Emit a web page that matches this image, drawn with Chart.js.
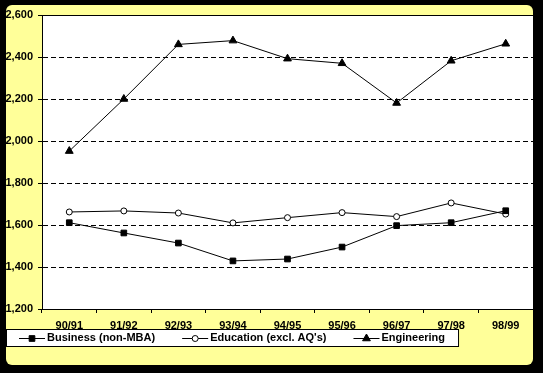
<!DOCTYPE html>
<html>
<head>
<meta charset="utf-8">
<script src="https://cdn.jsdelivr.net/npm/chart.js@4"></script>
<style>
  body { margin: 0; background: #000; }
  #wrap { width: 543px; height: 373px; }
</style>
</head>
<body>
<div id="wrap"><canvas id="chart" width="543" height="373"></canvas></div>
<script>
// chart data
let years = ["90/91", "91/92", "92/93", "93/94", "94/95", "95/96", "96/97", "97/98", "98/99"];
let business = [1611, 1562, 1514, 1429, 1438, 1495, 1597, 1611, 1668];
let education = [1662, 1667, 1657, 1610, 1635, 1659, 1640, 1705, 1652];
let engineering = [1952, 2200, 2460, 2478, 2392, 2370, 2181, 2382, 2463];
let seriesNames = ["Business (non-MBA)", "Education (excl. AQ's)", "Engineering"];
let yMin = 1200;
let yMax = 2600;
let yStep = 200;

let fontFamily = "'Liberation Sans', Arial, sans-serif";
let yellow = "#ffff99";

// yellow panel, white plot area, plot top line
let frame = {
  id: "frame",
  beforeDraw(chart) {
    let ctx = chart.ctx;
    let area = chart.chartArea;
    ctx.save();
    ctx.fillStyle = "#000";
    ctx.fillRect(0, 0, chart.width, chart.height);
    ctx.fillStyle = yellow;
    ctx.beginPath();
    ctx.roundRect(6, 5, 527, 360, 6);
    ctx.fill();
    ctx.fillStyle = "#fff";
    ctx.fillRect(area.left, area.top, area.right - area.left, area.bottom - area.top);
    ctx.restore();
  },
  afterDraw(chart) {
    let ctx = chart.ctx;
    let area = chart.chartArea;
    ctx.save();
    ctx.strokeStyle = "#000";
    ctx.lineWidth = 1;
    ctx.beginPath();
    ctx.moveTo(area.left - 4, Math.round(area.top) + 0.5);
    ctx.lineTo(area.right, Math.round(area.top) + 0.5);
    ctx.stroke();
    ctx.restore();
  }
};

// legend in a white box under the axis
let legendBox = {
  id: "legendBox",
  afterDraw(chart) {
    let ctx = chart.ctx;
    let sets = chart.data.datasets;
    let sample = 26, gap = 2, spacing = 27, pad = 13;
    let left = 6, top = 329, h = 17;
    ctx.save();
    ctx.font = "bold 11px " + fontFamily;
    let widths = sets.map((d) => ctx.measureText(d.label).width);
    let total = widths.reduce((a, b) => a + b, 0) + sets.length * (sample + gap) + (sets.length - 1) * spacing;
    let w = total + pad * 2;
    ctx.fillStyle = "#fff";
    ctx.fillRect(left, top, w, h);
    ctx.strokeStyle = "#000";
    ctx.lineWidth = 1;
    ctx.strokeRect(left + 0.5, top + 0.5, w, h);
    let x = left + pad;
    let cy = top + h / 2 + 0.5;
    sets.forEach((d, i) => {
      ctx.strokeStyle = "#000";
      ctx.beginPath();
      ctx.moveTo(x, Math.round(cy) + 0.5);
      ctx.lineTo(x + sample, Math.round(cy) + 0.5);
      ctx.stroke();
      ctx.fillStyle = d.pointBackgroundColor;
      ctx.lineWidth = 1;
      Chart.helpers.drawPoint(ctx, {
        pointStyle: d.pointStyle,
        radius: d.pointRadius,
        rotation: 0,
        borderWidth: 1
      }, x + sample / 2, Math.round(cy) + 0.5);
      ctx.fillStyle = "#000";
      ctx.textBaseline = "middle";
      ctx.fillText(d.label, x + sample + gap, cy);
      x += sample + gap + widths[i] + spacing;
    });
    ctx.restore();
  }
};

let makeSet = (label, values, style, fill, radius) => {
  return {
    label: label,
    data: values,
    borderColor: "#000",
    borderWidth: 1,
    pointStyle: style,
    pointRadius: radius,
    pointBackgroundColor: fill,
    pointBorderColor: "#000",
    pointBorderWidth: 1,
    tension: 0
  };
};

new Chart(document.getElementById("chart"), {
  type: "line",
  data: {
    labels: years,
    datasets: [
      makeSet(seriesNames[0], business, "rect", "#000", 4),
      makeSet(seriesNames[1], education, "circle", "#fff", 3),
      makeSet(seriesNames[2], engineering, "triangle", "#000", 4.5)
    ]
  },
  options: {
    responsive: false,
    animation: false,
    layout: { padding: { left: 0, top: 15, right: 10, bottom: 44 } },
    plugins: {
      legend: { display: false },
      tooltip: { enabled: false }
    },
    scales: {
      x: {
        offset: true,
        afterFit: (scale) => { scale.height = 20; },
        grid: { offset: true, drawOnChartArea: false, tickLength: 4, color: "#000" },
        border: { color: "#000", width: 1 },
        ticks: {
          color: "#000",
          font: { family: fontFamily, size: 11, weight: "bold" },
          padding: 6,
          maxRotation: 0,
          autoSkip: false
        }
      },
      y: {
        min: yMin,
        max: yMax,
        afterFit: (scale) => { scale.width = 42; },
        grid: {
          color: (c) => (c.tick && (c.tick.value === yMin || c.tick.value === yMax) ? "rgba(0,0,0,0)" : "#000"),
          tickColor: "#000",
          tickLength: 4
        },
        border: { color: "#000", width: 1, dash: [5, 3] },
        ticks: {
          stepSize: yStep,
          color: "#000",
          padding: 5,
          font: { family: fontFamily, size: 11, weight: "bold" }
        }
      }
    }
  },
  plugins: [frame, legendBox]
});
</script>
</body>
</html>
